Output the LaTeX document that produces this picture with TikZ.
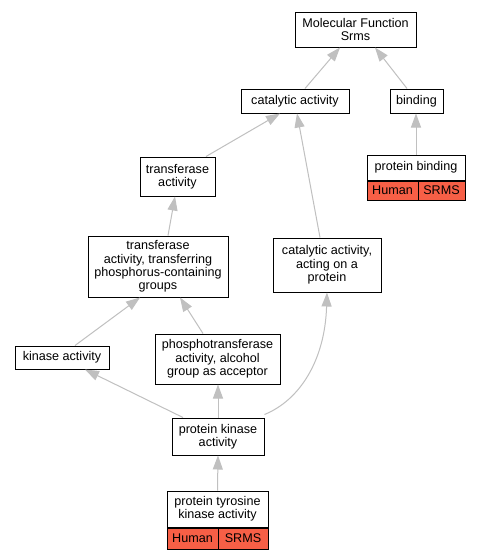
\documentclass[tikz,border=0pt]{standalone}
\usepackage{fontspec}
\setmainfont{Liberation Sans}
\usetikzlibrary{arrows.meta}
\definecolor{edgegray}{RGB}{192,192,192}
\definecolor{hred}{RGB}{247,95,70}
\begin{document}
\begin{tikzpicture}[x=1pt,y=-1pt,
  every node/.style={font=\fontsize{12.6}{13.4}\selectfont},
  term/.style={draw=black, line width=1pt, fill=white, rectangle, align=center, inner sep=0pt},
  tag/.style={draw=black, line width=1pt, fill=hred, rectangle, align=center, inner sep=0pt},
  isa/.style={draw=edgegray, line width=1pt, -{Triangle[width=10pt,length=14pt,fill=edgegray]}}]
\useasboundingbox[fill=white] (0,0) rectangle (480,560);
\node[term, minimum width=121pt, minimum height=35pt] (mf) at (355.5,29.5) {Molecular Function\\Srms};
\node[term, minimum width=108pt, minimum height=24pt] (cat) at (295,101) {catalytic activity};
\node[term, minimum width=53pt, minimum height=24pt] (bind) at (416.5,101) {binding};
\node[term, minimum width=98pt, minimum height=25pt] (pb) at (416,167.5) {protein binding};
\node[tag, minimum width=51pt, minimum height=19pt, anchor=north west] (pbh) at (pb.south west) {Human};
\node[tag, minimum width=47pt, minimum height=19pt, anchor=north east] (pbs) at (pb.south east) {SRMS};
\node[term, minimum width=75pt, minimum height=39pt] (tr) at (177.5,176.5) {transferase\\activity};
\node[term, minimum width=140pt, minimum height=61pt] (trp) at (158,266.5) {transferase\\activity, transferring\\phosphorus-containing\\groups};
\node[term, minimum width=108pt, minimum height=54pt] (cap) at (327,265) {catalytic activity,\\acting on a\\protein};
\node[term, minimum width=94pt, minimum height=23pt] (ka) at (62,357.5) {kinase activity};
\node[term, minimum width=125pt, minimum height=50pt] (ph) at (217.5,359) {phosphotransferase\\activity, alcohol\\group as acceptor};
\node[term, minimum width=92pt, minimum height=37pt] (pk) at (218,436.5) {protein kinase\\activity};
\node[term, minimum width=101pt, minimum height=36pt] (pt) at (217.5,509) {protein tyrosine\\kinase activity};
\node[tag, minimum width=51pt, minimum height=21pt, anchor=north west] (pth) at (pt.south west) {Human};
\node[tag, minimum width=50pt, minimum height=21pt, anchor=north east] (pts) at (pt.south east) {SRMS};
\draw[isa] ([xshift=10pt]cat.north) -- ([xshift=-15.5pt]mf.south);
\draw[isa] ([xshift=-9.5pt]bind.north) -- ([xshift=19.5pt]mf.south);
\draw[isa] (pb.north) -- (pb.north |- bind.south);
\draw[isa] ([xshift=28.5pt]tr.north) -- ([xshift=-15pt]cat.south);
\draw[isa] ([xshift=-7pt]cap.north) -- ([xshift=2pt]cat.south);
\draw[isa] ([xshift=10pt]trp.north) -- ([xshift=-2.5pt]tr.south);
\draw[isa] ([xshift=13pt]ka.north) -- ([xshift=-18pt]trp.south);
\draw[isa] ([xshift=-14.5pt]ph.north) -- ([xshift=22pt]trp.south);
\draw[isa] ([xshift=-35pt]pk.north) -- ([xshift=23pt]ka.south);
\draw[isa] (pk.north) -- (pk.north |- ph.south);
\draw[isa] ([yshift=3pt]pk.north east) .. controls (300,400) and (325,360) .. (cap.south);
\draw[isa] (pt.north) -- (pk.south);
\end{tikzpicture}
\end{document}
